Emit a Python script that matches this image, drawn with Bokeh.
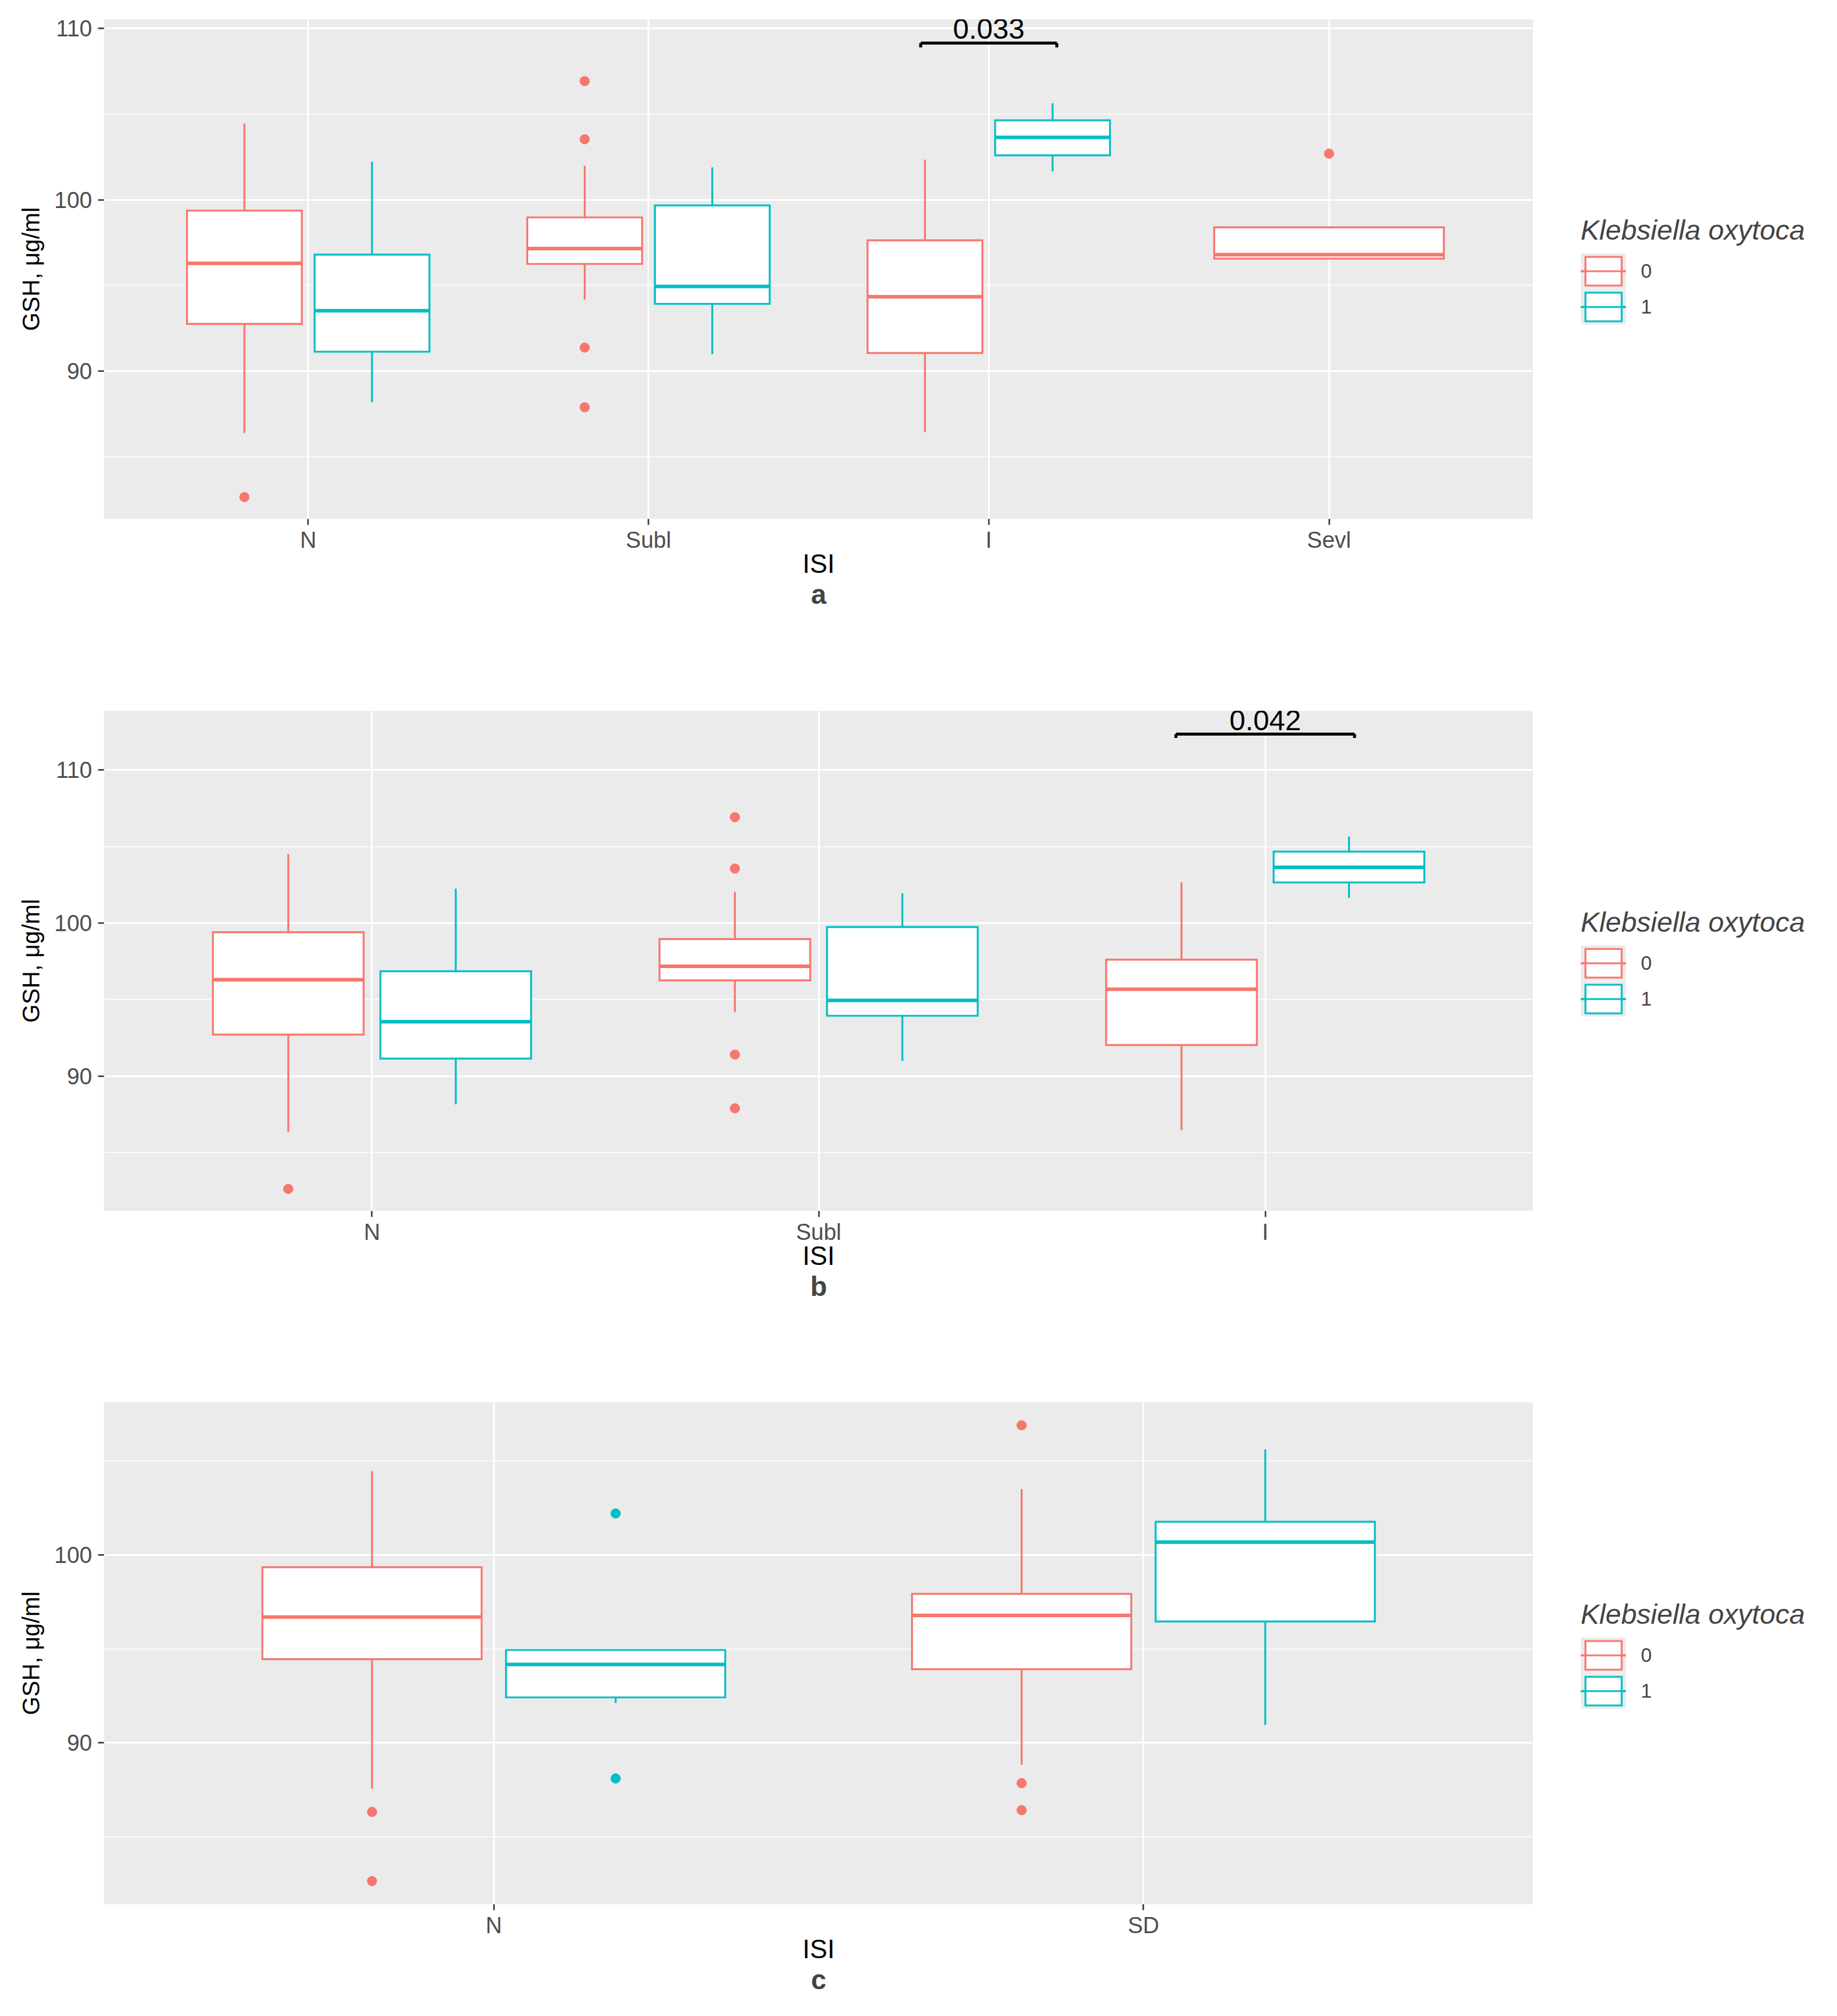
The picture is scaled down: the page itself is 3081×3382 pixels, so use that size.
from bokeh.plotting import figure
from bokeh.models import (ColumnDataSource, Range1d, FixedTicker, Legend,
                          LegendItem, Title)
from bokeh.layouts import column, row
from bokeh.core.properties import value
from bokeh.embed import file_html
from bokeh.resources import INLINE

FONT = "Liberation Sans"
GROUPS = ["0", "1"]
COLORS = ["#F8766D", "#00BFC4"]
PANEL_BG = "#EBEBEB"

# ---- panel a: ISI with four levels
a_cats = ["N", "Subl", "I", "Sevl"]
a0_cats = ["N", "Subl", "I", "Sevl"]
a0_low = [86.40, 94.18, 86.45, 96.57]
a0_q1 = [92.76, 96.26, 91.07, 96.57]
a0_med = [96.29, 97.15, 94.35, 96.80]
a0_q3 = [99.37, 98.97, 97.64, 98.39]
a0_high = [104.44, 101.99, 102.34, 98.39]
a0_out_cat = ["N", "Subl", "Subl", "Subl", "Subl", "Sevl"]
a0_out = [82.66, 106.92, 103.53, 91.38, 87.90, 102.69]
a1_cats = ["N", "Subl", "I"]
a1_low = [88.20, 91.00, 101.66]
a1_q1 = [91.14, 93.93, 102.59]
a1_med = [93.53, 94.95, 103.64]
a1_q3 = [96.80, 99.67, 104.63]
a1_high = [102.22, 101.89, 105.63]
a1_out_cat = []
a1_out = []
a_sig_cat = "I"
a_sig_label = "0.033"
a_sig_y = 109.14

# ---- panel b: ISI with three levels
b_cats = ["N", "Subl", "I"]
b0_cats = ["N", "Subl", "I"]
b0_low = [86.34, 94.18, 86.47]
b0_q1 = [92.71, 96.25, 92.03]
b0_med = [96.30, 97.17, 95.67]
b0_q3 = [99.40, 98.95, 97.61]
b0_high = [104.51, 102.04, 102.67]
b0_out_cat = ["N", "Subl", "Subl", "Subl", "Subl"]
b0_out = [82.62, 106.92, 103.56, 91.40, 87.89]
b1_cats = ["N", "Subl", "I"]
b1_low = [88.15, 90.98, 101.65]
b1_q1 = [91.14, 93.94, 102.65]
b1_med = [93.55, 94.94, 103.64]
b1_q3 = [96.85, 99.74, 104.67]
b1_high = [102.25, 101.94, 105.66]
b1_out_cat = []
b1_out = []
b_sig_cat = "I"
b_sig_label = "0.042"
b_sig_y = 112.35

# ---- panel c: ISI N vs SD
c_cats = ["N", "SD"]
c0_cats = ["N", "SD"]
c0_low = [87.56, 88.83]
c0_q1 = [94.45, 93.92]
c0_med = [96.69, 96.78]
c0_q3 = [99.34, 97.92]
c0_high = [104.45, 103.50]
c0_out_cat = ["N", "N", "SD", "SD", "SD"]
c0_out = [86.33, 82.65, 106.89, 87.86, 86.42]
c1_cats = ["N", "SD"]
c1_low = [92.12, 90.95]
c1_q1 = [92.42, 96.46]
c1_med = [94.17, 100.68]
c1_q3 = [94.94, 101.76]
c1_high = [94.94, 105.61]
c1_out_cat = ["N", "N"]
c1_out = [102.20, 88.11]

y_ticks = [90, 100, 110]
y_minor = [85, 95, 105]

DODGE = 0.75
BOX_W = 0.3375
LW = 3.2
W = 3065
LEFT = 174
RIGHT = 494


def centre(cats, both, c, gi):
    i = cats.index(c) + 1
    if c in both:
        return i + (gi - 0.5) * DODGE / 2, BOX_W
    return i, 2 * BOX_W


def draw_group(p, cats, both, gi, gcats, low, q1, med, q3, high, out_cat, out):
    col = COLORS[gi]
    xs, ws = zip(*[centre(cats, both, c, gi) for c in gcats])
    src = ColumnDataSource(dict(
        x=list(xs), left=[x - w / 2 for x, w in zip(xs, ws)],
        right=[x + w / 2 for x, w in zip(xs, ws)],
        low=low, q1=q1, med=med, q3=q3, high=high))
    p.segment(x0="x", y0="q3", x1="x", y1="high", source=src,
              line_color=col, line_width=LW)
    p.segment(x0="x", y0="low", x1="x", y1="q1", source=src,
              line_color=col, line_width=LW)
    p.quad(left="left", right="right", bottom="q1", top="q3", source=src,
           fill_color="white", line_color=col, line_width=LW,
           line_join="miter")
    p.segment(x0="left", y0="med", x1="right", y1="med", source=src,
              line_color=col, line_width=6)
    if out:
        ox = [centre(cats, both, c, gi)[0] for c in out_cat]
        p.scatter(ox, out, size=16, fill_color=col, line_color=col)
    return src


def legend_panel(sources, height, top, bottom):
    # white strip right of the panel that only holds the legend; its ranges
    # lie below every value, so the key glyphs show in the legend only
    q = figure(width=RIGHT, height=height, output_backend="svg",
               toolbar_location=None, x_axis_type=None, y_axis_type=None,
               x_range=Range1d(-2, -1), y_range=Range1d(-2, -1),
               min_border_left=0, min_border_right=0,
               min_border_top=top, min_border_bottom=bottom)
    q.outline_line_color = None
    q.background_fill_color = "white"
    q.border_fill_color = "white"
    items = []
    for gi, src in enumerate(sources):
        col = COLORS[gi]
        bg = q.segment(x0="x", y0="med", x1="x", y1="med", source=src,
                       line_color=PANEL_BG, line_width=60)
        wh = q.vspan(x="x", source=src, line_color=col, line_width=LW)
        bx = q.quad(left="left", right="right", bottom="q1", top="q3",
                    source=src, fill_color="white", line_color=col,
                    line_width=LW, line_join="miter")
        md = q.segment(x0="left", y0="med", x1="right", y1="med",
                       source=src, line_color=col, line_width=LW)
        items.append(LegendItem(label=GROUPS[gi], renderers=[bg, wh, bx, md],
                                index=0))
    leg = Legend(items=items, title="Klebsiella oxytoca",
                 location="center_left", margin=80,
                 padding=10, spacing=0,
                 glyph_width=76, glyph_height=60, label_standoff=25,
                 label_text_font=FONT, label_text_font_size="33px",
                 title_text_font=FONT, title_text_font_size="47px",
                 title_text_font_style="italic", title_standoff=12,
                 border_line_color=None, background_fill_color="white")
    q.add_layout(leg)
    return q


def make_panel(letter, cats, g0, g1, sig, y_lo, y_hi, height, top, bottom):
    both = [c for c in cats if c in g0[0] and c in g1[0]]
    p = figure(width=W - RIGHT, height=height,
               x_range=Range1d(0.4, len(cats) + 0.6),
               y_range=Range1d(y_lo, y_hi),
               output_backend="svg", toolbar_location=None,
               min_border_left=LEFT, min_border_right=0,
               min_border_top=top, min_border_bottom=bottom)
    p.background_fill_color = PANEL_BG
    p.border_fill_color = "white"
    p.outline_line_color = None

    xt = FixedTicker(ticks=list(range(1, len(cats) + 1)))
    yt = FixedTicker(ticks=y_ticks, minor_ticks=y_minor)
    p.xaxis.ticker = xt
    p.xgrid.ticker = xt
    p.yaxis.ticker = yt
    p.ygrid.ticker = yt
    p.xaxis.major_label_overrides = {i + 1: c for i, c in enumerate(cats)}
    p.grid.grid_line_color = "white"
    p.grid.grid_line_width = 3
    p.ygrid.minor_grid_line_color = "white"
    p.ygrid.minor_grid_line_width = 1.5

    for ax in p.axis:
        ax.axis_line_color = None
        ax.minor_tick_line_color = None
        ax.major_tick_in = 0
        ax.major_tick_out = 10
        ax.major_tick_line_color = "#333333"
        ax.major_tick_line_width = 2.5
        ax.major_label_text_font = FONT
        ax.major_label_text_font_size = "38px"
        ax.major_label_text_color = "#4D4D4D"
        ax.axis_label_text_font = FONT
        ax.axis_label_text_font_size = "44px"
        ax.axis_label_text_font_style = "normal"
        ax.axis_label_text_color = "black"
    p.xaxis.axis_label = "ISI"
    p.xaxis.major_label_standoff = 4
    p.xaxis.axis_label_standoff = -9
    p.yaxis.axis_label = "GSH, μg/ml"
    p.yaxis.axis_label_text_font_size = "40px"
    p.yaxis.major_label_standoff = 10
    p.yaxis.axis_label_standoff = 14

    sources = [draw_group(p, cats, both, 0, *g0),
               draw_group(p, cats, both, 1, *g1)]

    if sig is not None:
        s_cat, s_label, s_y = sig
        i = cats.index(s_cat) + 1
        p.segment(x0=[i - 0.2], y0=[s_y], x1=[i + 0.2], y1=[s_y],
                  line_color="black", line_width=5)
        p.segment(x0=[i - 0.2, i + 0.2], y0=[s_y, s_y],
                  x1=[i - 0.2, i + 0.2], y1=[s_y - 0.25, s_y - 0.25],
                  line_color="black", line_width=5)
        p.text(x=[i], y=[s_y], text=[s_label], text_font=value(FONT),
               text_font_size="48px", text_align="center",
               text_baseline="bottom", y_offset=-7, text_color="black")

    p.add_layout(Title(text=letter, align="center", text_font=FONT,
                       text_font_size="46px", text_font_style="bold",
                       standoff=-8), "below")

    return row(p, legend_panel(sources, height, top, bottom), spacing=0)


pa = make_panel("a", a_cats,
                (a0_cats, a0_low, a0_q1, a0_med, a0_q3, a0_high, a0_out_cat, a0_out),
                (a1_cats, a1_low, a1_q1, a1_med, a1_q3, a1_high, a1_out_cat, a1_out),
                (a_sig_cat, a_sig_label, a_sig_y), 81.39, 110.52, 1152, 32, 282)
pb = make_panel("b", b_cats,
                (b0_cats, b0_low, b0_q1, b0_med, b0_q3, b0_high, b0_out_cat, b0_out),
                (b1_cats, b1_low, b1_q1, b1_med, b1_q3, b1_high, b1_out_cat, b1_out),
                (b_sig_cat, b_sig_label, b_sig_y), 81.18, 113.87, 1160, 40, 281)
pc = make_panel("c", c_cats,
                (c0_cats, c0_low, c0_q1, c0_med, c0_q3, c0_high, c0_out_cat, c0_out),
                (c1_cats, c1_low, c1_q1, c1_med, c1_q3, c1_high, c1_out_cat, c1_out),
                None, 81.42, 108.11, 1054, 40, 172)

layout = column(pa, pb, pc, spacing=0)
open("out.html", "w").write(file_html(layout, INLINE))
